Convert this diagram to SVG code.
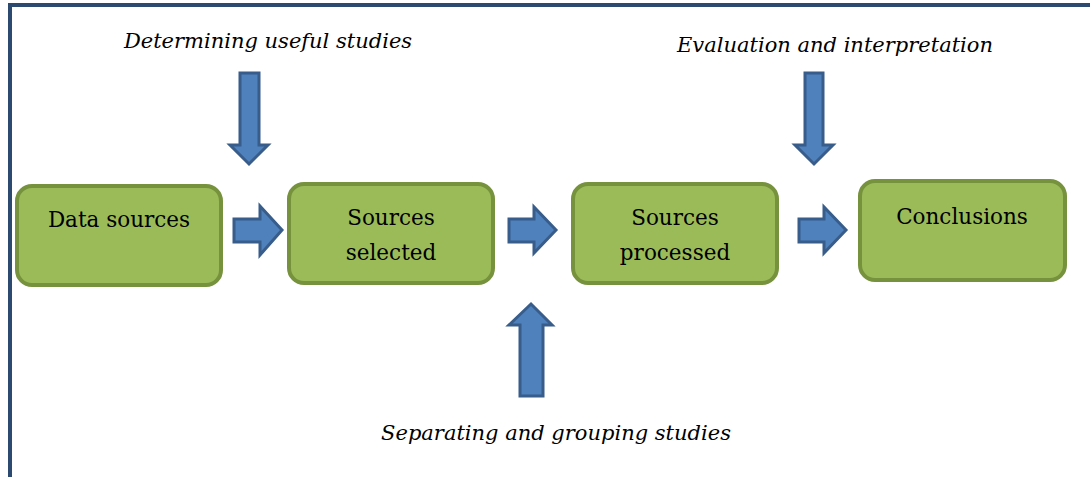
<svg xmlns="http://www.w3.org/2000/svg" width="1090" height="477" viewBox="0 0 1090 477">
<style>
.frame{stroke:#2c4a70;stroke-width:4;fill:none}
.box{fill:#9bbb59;stroke:#76923c;stroke-width:4}
.arr{fill:#4f81bd;stroke:#385d8a;stroke-width:3;stroke-linejoin:miter}
text{font-family:'DejaVu Serif','Liberation Serif',serif;font-size:21.5px;fill:#000;text-anchor:middle}
.it{font-style:italic;font-size:21px}
</style>
<rect width="1090" height="477" fill="#fff"/>
<path class="frame" d="M10,477 V5 H1090"/>
<g id="connectors">
<polygon class="arr" points="234,219 260,219 260,206 282,230 260,255 260,242 234,242"/>
<polygon class="arr" points="509,219 534,219 534,207 556,230 534,253 534,242 509,242"/>
<polygon class="arr" points="799,219 824,219 824,207 846,230 824,253 824,242 799,242"/>
<polygon class="arr" points="240,73 259,73 259,145 268,145 249,164 230,145 240,145"/>
<polygon class="arr" points="805,73 823,73 823,145 833,145 814,164 795,145 805,145"/>
<polygon class="arr" points="520,396 543,396 543,325 552,325 531,304 509,325 520,325"/>
</g>
<g id="label-determining"><text class="it" x="268" y="48">Determining useful studies</text></g>
<g id="label-evaluation"><text class="it" x="835" y="52">Evaluation and interpretation</text></g>
<g id="label-separating"><text class="it" x="556" y="440">Separating and grouping studies</text></g>
<g id="node-data-sources">
<rect class="box" x="17" y="186" width="204" height="99" rx="15"/>
<text x="119" y="227">Data sources</text>
</g>
<g id="node-sources-selected">
<rect class="box" x="289" y="184" width="204" height="99" rx="15"/>
<text x="391" y="225">Sources</text>
<text x="391" y="260">selected</text>
</g>
<g id="node-sources-processed">
<rect class="box" x="573" y="184" width="204" height="99" rx="15"/>
<text x="675" y="225">Sources</text>
<text x="675" y="260">processed</text>
</g>
<g id="node-conclusions">
<rect class="box" x="860" y="181" width="205" height="99" rx="15"/>
<text x="962" y="224">Conclusions</text>
</g>
</svg>
